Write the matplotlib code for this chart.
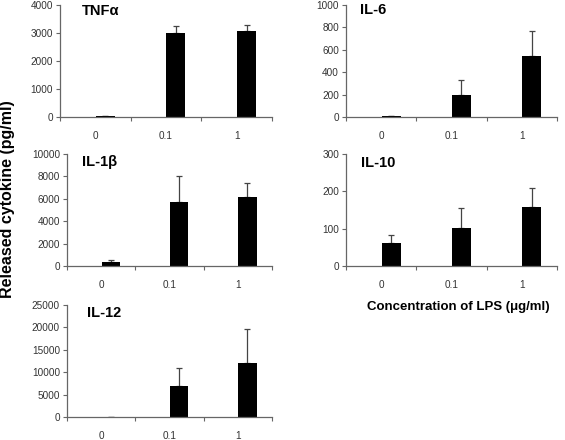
import matplotlib
matplotlib.use("Agg")
import matplotlib.pyplot as plt
import numpy as np

plt.rcParams['font.family'] = ['Liberation Sans', 'DejaVu Sans']

categories = ["0", "0.1", "1"]

tnf_vals = [30, 2990, 3060]
tnf_err = [10, 260, 240]

il6_vals = [5, 194, 546]
il6_err = [3, 135, 222]

il1b_vals = [400, 5700, 6150]
il1b_err = [150, 2300, 1300]

il10_vals = [62, 101, 157]
il10_err = [22, 55, 52]

il12_vals = [50, 6900, 12100]
il12_err = [0, 4100, 7500]

W, H = 565, 440
fig = plt.figure(figsize=(W / 100, H / 100), dpi=100)


def px_axes(x0, x1, y0, y1):
    return fig.add_axes([x0 / W, (H - y1) / H, (x1 - x0) / W, (y1 - y0) / H])


def panel(ax, vals, err, ymax, step, title, tx, ty):
    x = np.arange(len(categories)) + 0.5
    ax.bar(x + 0.14, vals, width=0.27, color='black', zorder=2)
    ax.errorbar(x + 0.14, vals, yerr=[np.zeros(len(err)), err], fmt='none',
                ecolor='#444444', elinewidth=0.9, capsize=2.5, capthick=0.9, zorder=1)
    ax.set_xlim(0, 3)
    ax.set_ylim(0, ymax)
    ax.set_yticks(np.arange(0, ymax + step / 2, step))
    ax.set_xticks(x)
    ax.set_xticklabels(categories)
    ax.set_xticks([0, 1, 2, 3], minor=True)
    for s in ['top', 'right']:
        ax.spines[s].set_visible(False)
    for s in ['left', 'bottom']:
        ax.spines[s].set_color('#666666')
        ax.spines[s].set_linewidth(0.9)
    ax.tick_params(axis='y', direction='out', length=3, width=0.8, color='#666666',
                   labelsize=7.2, labelcolor='#333333', pad=2)
    ax.tick_params(axis='x', which='major', length=0, labelsize=7.2,
                   labelcolor='#333333', pad=10)
    ax.tick_params(axis='x', which='minor', direction='out', length=3, width=0.8,
                   color='#666666')
    fig.text(tx / W, 1 - ty / H, title, fontsize=10.5, fontweight='bold',
             ha='left', va='center')


ax1 = px_axes(60, 272, 5, 117)
panel(ax1, tnf_vals, tnf_err, 4000, 1000, "TNFα", 82, 11)

ax2 = px_axes(346, 557, 5, 117)
panel(ax2, il6_vals, il6_err, 1000, 200, "IL-6", 360, 10)

ax3 = px_axes(67, 272, 154, 266)
panel(ax3, il1b_vals, il1b_err, 10000, 2000, "IL-1β", 82, 162)

ax4 = px_axes(346, 557, 154, 266)
panel(ax4, il10_vals, il10_err, 300, 100, "IL-10", 361, 163)

ax5 = px_axes(67, 272, 305, 417)
panel(ax5, il12_vals, il12_err, 25000, 5000, "IL-12", 87, 313)

fig.text(8 / W, 1 - 199 / H, "Released cytokine (pg/ml)", rotation=90,
         fontsize=11.5, fontweight='bold', ha='center', va='center')
fig.text(458 / W, 1 - 307 / H, "Concentration of LPS (μg/ml)",
         fontsize=9.5, fontweight='bold', ha='center', va='center')

fig.savefig("out.png", dpi=100)
